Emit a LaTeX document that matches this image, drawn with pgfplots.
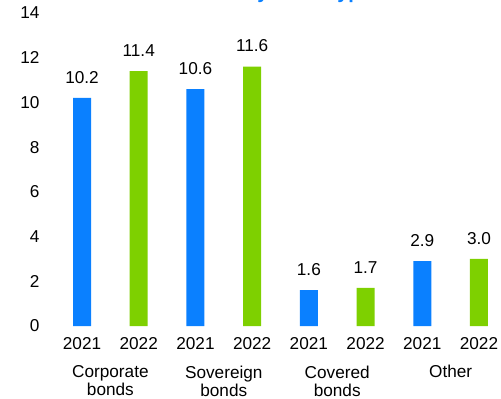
\documentclass[border=0pt]{standalone}
\usepackage{pgfplots}
\pgfplotsset{compat=1.18}
\usepackage{fontspec}
\setmainfont{Liberation Sans}
\definecolor{barblue}{HTML}{0A80FF}
\definecolor{bargreen}{HTML}{7ED000}
\begin{document}
\begin{tikzpicture}[font=\fontsize{17.2bp}{18bp}\selectfont]
\useasboundingbox (0,0) rectangle (501bp,399bp);
\node[anchor=base east, font=\fontsize{20bp}{24bp}\selectfont\bfseries, text=barblue, inner sep=0pt] at (372bp,400bp) {Investments by asset type};
\begin{axis}[
  at={(48bp,73bp)}, anchor=south west,
  scale only axis, width=448bp, height=313bp,
  xmin=-0.6, xmax=7.3, ymin=0, ymax=14,
  axis line style={draw=none},
  major tick length=0pt,
  ytick={0,2,4,6,8,10,12,14},
  xtick={0,1,2,3,4,5,6,7},
  xticklabels={2021,2022,2021,2022,2021,2022,2021,2022},
  /pgf/number format/assume math mode=true,
  yticklabel style={xshift=-5bp},
  xticklabel style={yshift=-8bp},
  ybar, bar width=18bp, bar shift=0pt,
  nodes near coords,
  nodes near coords style={/pgf/number format/fixed, /pgf/number format/fixed zerofill, /pgf/number format/precision=1, /pgf/number format/assume math mode=true, /tikz/yshift=11bp},
  clip=false,
]
\addplot[draw=none, fill=barblue] coordinates {(0,10.2) (2,10.6) (4,1.6) (6,2.9)};
\addplot[draw=none, fill=bargreen] coordinates {(1,11.4) (3,11.6) (5,1.7) (7,3.0)};
\node[align=center, anchor=center] at (axis cs:0.5,0) [yshift=-55bp] {Corporate\\bonds};
\node[align=center, anchor=center] at (axis cs:2.5,0) [yshift=-55bp] {Sovereign\\bonds};
\node[align=center, anchor=center] at (axis cs:4.5,0) [yshift=-55bp] {Covered\\bonds};
\node[align=center, anchor=center] at (axis cs:6.5,0) [yshift=-45bp] {Other};
\end{axis}
\end{tikzpicture}
\end{document}
